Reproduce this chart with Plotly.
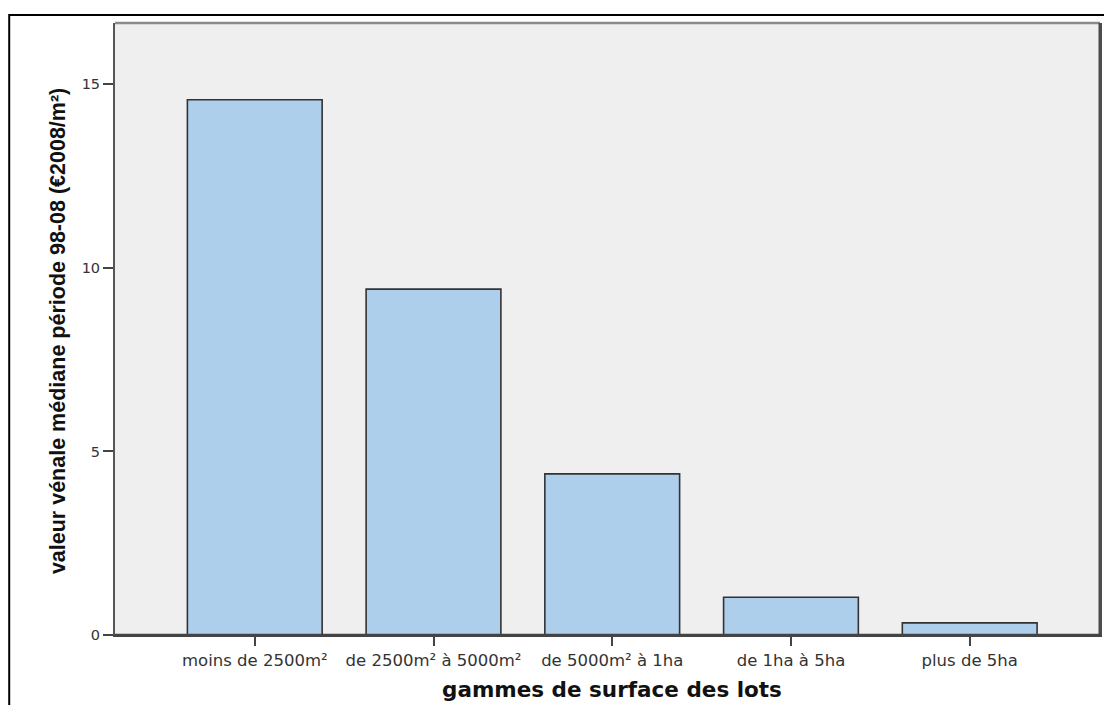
import plotly.graph_objects as go

categories = ["moins de 2500m²", "de 2500m² à 5000m²", "de 5000m² à 1ha", "de 1ha à 5ha", "plus de 5ha"]
values = [14.58, 9.42, 4.39, 1.03, 0.33]
y_ticks = [0, 5, 10, 15]
x_title = "gammes de surface des lots"
y_title = "valeur vénale médiane période 98-08 (€2008/m²)"

# page body has an 8px margin: compensate so page coordinates match the reference
OFF = 8
W, H = 1112 - 2 * OFF, 713 - 2 * OFF
L, R, T = 115 - OFF, 2, 23 - OFF
B = H - (635 - OFF)
pw, ph = W - L - R, H - T - B


def px_x(page_x):
    return (page_x - OFF - L) / pw


def px_y(page_y):
    return (H - B - (page_y - OFF)) / ph


fig = go.Figure()
fig.add_trace(go.Bar(
    x=categories, y=values,
    marker=dict(color="#AECFEC", line=dict(color="#333333", width=1.6)),
    hoverinfo="x+y",
))

fig.update_layout(
    width=W, height=H,
    margin=dict(l=L, r=R, t=T, b=B, pad=0),
    paper_bgcolor="white",
    plot_bgcolor="#EFEFEF",
    bargap=0.246,
    showlegend=False,
    xaxis=dict(
        type="category",
        range=[-0.782, 4.729],
        showgrid=False, zeroline=False,
        showline=True, linecolor="#444444", linewidth=2, mirror=False,
        ticks="outside", ticklen=9, tickwidth=2, tickcolor="#444444",
        tickfont=dict(family="DejaVu Sans", size=16.5, color="#333333"),
        fixedrange=True,
    ),
    yaxis=dict(
        range=[0, 16.67],
        tickvals=y_ticks,
        showgrid=False, zeroline=False,
        showline=True, linecolor="#555555", linewidth=2, mirror=True,
        ticks="outside", ticklen=10, tickwidth=1.5, tickcolor="#444444",
        tickfont=dict(family="DejaVu Sans", size=14.5, color="#333333"),
        fixedrange=True,
    ),
    shapes=[
        dict(type="line", xref="paper", yref="paper", x0=0, x1=1, y0=1, y1=1,
             line=dict(color="#8a8a8a", width=2.5)),
        dict(type="line", xref="paper", yref="paper", x0=1, x1=1, y0=0, y1=1,
             line=dict(color="#4a4a4a", width=3)),
        dict(type="line", xref="paper", yref="paper", x0=0, x1=1, y0=0, y1=0,
             line=dict(color="#444444", width=2.5)),
        dict(type="rect", xref="paper", yref="paper",
             x0=px_x(9), x1=px_x(1140),
             y0=px_y(740), y1=px_y(15),
             line=dict(color="black", width=2), fillcolor="rgba(0,0,0,0)", layer="above"),
    ],
    annotations=[
        dict(text=f"<b>{y_title}</b>", xref="paper", yref="paper",
             x=px_x(58), y=px_y(331), xanchor="center", yanchor="middle",
             textangle=-90, showarrow=False,
             font=dict(family="Liberation Sans, Arial, sans-serif", size=21.5, color="#111111")),
        dict(text=f"<b>{x_title}</b>", xref="paper", yref="paper",
             x=px_x(613), y=px_y(690), xanchor="center", yanchor="middle",
             showarrow=False,
             font=dict(family="DejaVu Sans", size=21.5, color="#111111")),
    ],
)

fig.write_html("out.html")
